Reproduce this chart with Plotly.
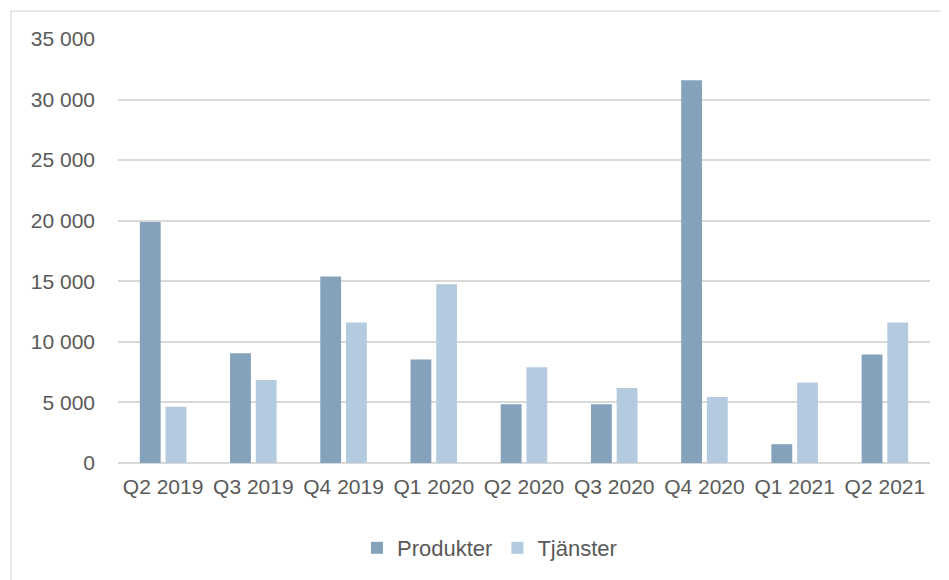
import plotly.graph_objects as go

categories = ["Q2 2019", "Q3 2019", "Q4 2019", "Q1 2020", "Q2 2020",
              "Q3 2020", "Q4 2020", "Q1 2021", "Q2 2021"]
produkter = [19900, 9050, 15400, 8550, 4850, 4850, 31600, 1550, 8950]
tjanster = [4650, 6850, 11600, 14750, 7900, 6200, 5450, 6650, 11600]
tick_vals = [0, 5000, 10000, 15000, 20000, 25000, 30000, 35000]
tick_text = ["0", "5 000", "10 000", "15 000", "20 000", "25 000", "30 000", "35 000"]

FONT = "Liberation Sans"
TXT = "#595959"

# page body has an 8px margin; figure coordinates are compensated for it
W, H = 941, 572
ML, MR, MT, MB = 110, 19, 31, 116
PW, PH = W - ML - MR, H - MT - MB

fig = go.Figure()
fig.add_trace(go.Bar(name="Produkter", x=categories, y=produkter,
                     marker=dict(color="#84A2BB", line=dict(width=0))))
fig.add_trace(go.Bar(name="Tjänster", x=categories, y=tjanster,
                     marker=dict(color="#B4CADF", line=dict(width=0))))

bx = (3 - ML) / PW
by = (H - MB - 3) / PH

fig.update_layout(
    width=W, height=H,
    margin=dict(l=ML, r=MR, t=MT, b=MB),
    paper_bgcolor="white", plot_bgcolor="white",
    barmode="group", bargap=0.43, bargroupgap=0.19,
    font=dict(family=FONT, size=21, color=TXT),
    showlegend=True,
    legend=dict(orientation="h", x=(489.5 - 8 - ML) / PW, xanchor="center",
                y=(H - MB - 540) / PH, yanchor="middle",
                font=dict(family=FONT, size=22, color=TXT), traceorder="normal",
                itemwidth=30),
    xaxis=dict(showgrid=False, showline=False, ticks="", tickfont=dict(size=21, color=TXT),
               ticklabelstandoff=9),
    yaxis=dict(range=[0, 35000], tickvals=tick_vals, ticktext=tick_text,
               showgrid=True, gridcolor="#D9D9D9", gridwidth=1.5,
               zeroline=True, zerolinecolor="#D9D9D9", zerolinewidth=1.5,
               showline=False, ticks="", tickfont=dict(size=21, color=TXT),
               ticklabelstandoff=22),
    shapes=[
        dict(type="line", xref="paper", yref="paper",
             x0=bx, x1=(W - ML) / PW + 0.01, y0=by, y1=by,
             line=dict(color="#D9D9D9", width=1.2)),
        dict(type="line", xref="paper", yref="paper",
             x0=bx, x1=bx, y0=by, y1=(H - MB - H - 5) / PH,
             line=dict(color="#D9D9D9", width=1.2)),
    ],
)

fig.write_html("out.html")
